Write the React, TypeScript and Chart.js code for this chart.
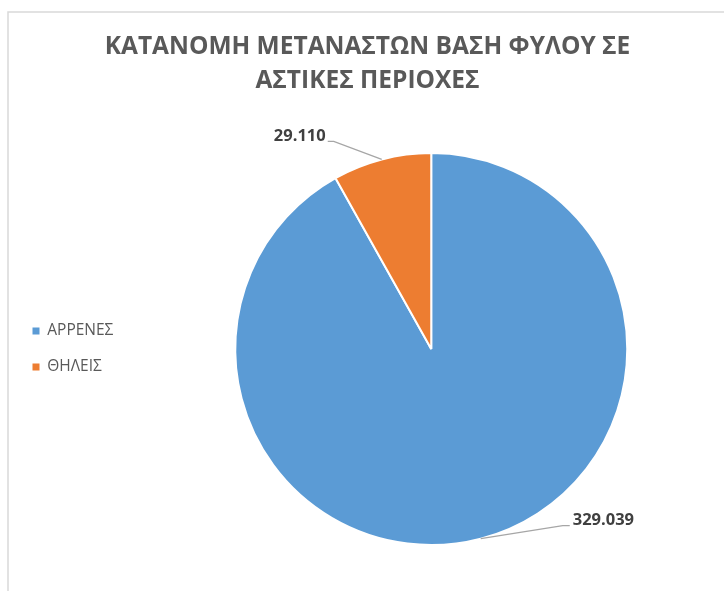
import { useEffect, useRef } from 'react';
import { Chart, registerables } from 'chart.js';

Chart.register(...registerables);

const TITLE_LINES = ['ΚΑΤΑΝΟΜΗ ΜΕΤΑΝΑΣΤΩΝ ΒΑΣΗ ΦΥΛΟΥ ΣΕ', 'ΑΣΤΙΚΕΣ ΠΕΡΙΟΧΕΣ'];
const CATEGORIES = ['ΑΡΡΕΝΕΣ', 'ΘΗΛΕΙΣ'];
const VALUES = [329039, 29110];
const COLORS = ['#5B9BD5', '#ED7D31'];
// label leader-line end offsets relative to the slice's outer mid-point (style only)
const LABEL_OFFSETS = [
  { dx: 89, dy: -13 },
  { dx: -54, dy: -18 },
];

const FONT = '"Open Sans", "DejaVu Sans", sans-serif';
// invisible trailing space that widens the legend column like the original layout
const LEGEND_PAD = '\u00A0\u00A0\u00A0\u00A0';

function fmt(v: number): string {
  return String(v).replace(/\B(?=(\d{3})+(?!\d))/g, '.');
}

const framePlugin = {
  id: 'frame',
  beforeDraw(chart: any) {
    const ctx = chart.ctx;
    ctx.save();
    ctx.strokeStyle = '#d9d9d9';
    ctx.lineWidth = 1.5;
    ctx.strokeRect(8, 12, 900, 800);
    ctx.restore();
  },
};

const outLabelPlugin = {
  id: 'outLabels',
  afterDatasetsDraw(chart: any) {
    const ctx = chart.ctx;
    const meta = chart.getDatasetMeta(0);
    const data = chart.data.datasets[0].data as number[];
    ctx.save();
    meta.data.forEach((arc: any, i: number) => {
      const { x, y, startAngle, endAngle, outerRadius } = arc.getProps(
        ['x', 'y', 'startAngle', 'endAngle', 'outerRadius'],
        true
      );
      const mid = (startAngle + endAngle) / 2;
      const px = x + Math.cos(mid) * outerRadius;
      const py = y + Math.sin(mid) * outerRadius;
      const off = LABEL_OFFSETS[i];
      const ex = px + off.dx;
      const ey = py + off.dy;
      const right = off.dx > 0;
      const elbowX = right ? ex - 7 : ex + 6;
      ctx.strokeStyle = '#a6a6a6';
      ctx.lineWidth = 1.3;
      ctx.beginPath();
      ctx.moveTo(px, py);
      ctx.lineTo(elbowX, ey);
      ctx.lineTo(ex, ey);
      ctx.stroke();
      ctx.font = `bold 16.5px ${FONT}`;
      ctx.fillStyle = '#404040';
      ctx.textBaseline = 'middle';
      ctx.textAlign = right ? 'left' : 'right';
      ctx.fillText(fmt(data[i]), right ? ex + 3 : ex - 2, ey - 5);
    });
    ctx.restore();
  },
};

export default function App() {
  const ref = useRef<HTMLCanvasElement | null>(null);

  useEffect(() => {
    if (!ref.current) return;
    const baseGen = (Chart as any).overrides.doughnut.plugins.legend.labels.generateLabels;
    const chart = new Chart(ref.current, {
      type: 'pie',
      data: {
        labels: CATEGORIES,
        datasets: [
          {
            data: VALUES,
            backgroundColor: COLORS,
            borderColor: '#ffffff',
            borderWidth: 2,
            radius: 196,
          } as any,
        ],
      },
      options: {
        responsive: false,
        animation: false,
        layout: { padding: { left: 12, right: 1, top: 12, bottom: 1 } },
        plugins: {
          title: {
            display: true,
            text: TITLE_LINES,
            color: '#595959',
            font: { family: FONT, size: 24.5, weight: 'bold', lineHeight: 1.39 },
            padding: { top: 18, bottom: 10 },
          },
          legend: {
            display: true,
            position: 'left',
            align: 'center',
            fullSize: false,
            labels: {
              color: '#595959',
              font: { family: FONT, size: 15.5 },
              boxWidth: 7,
              boxHeight: 7,
              padding: 20.5,
              generateLabels: (c: any) =>
                baseGen(c).map((l: any) => ({ ...l, text: l.text + LEGEND_PAD, lineWidth: 0 })),
            },
          },
          tooltip: { enabled: false },
        },
      } as any,
      plugins: [framePlugin, outLabelPlugin],
    });
    return () => chart.destroy();
  }, []);

  return (
    <div style={{ position: 'absolute', left: 0, top: 0, width: 724, height: 591, background: '#fff' }}>
      <canvas ref={ref} width={724} height={591} style={{ display: 'block' }} />
    </div>
  );
}
